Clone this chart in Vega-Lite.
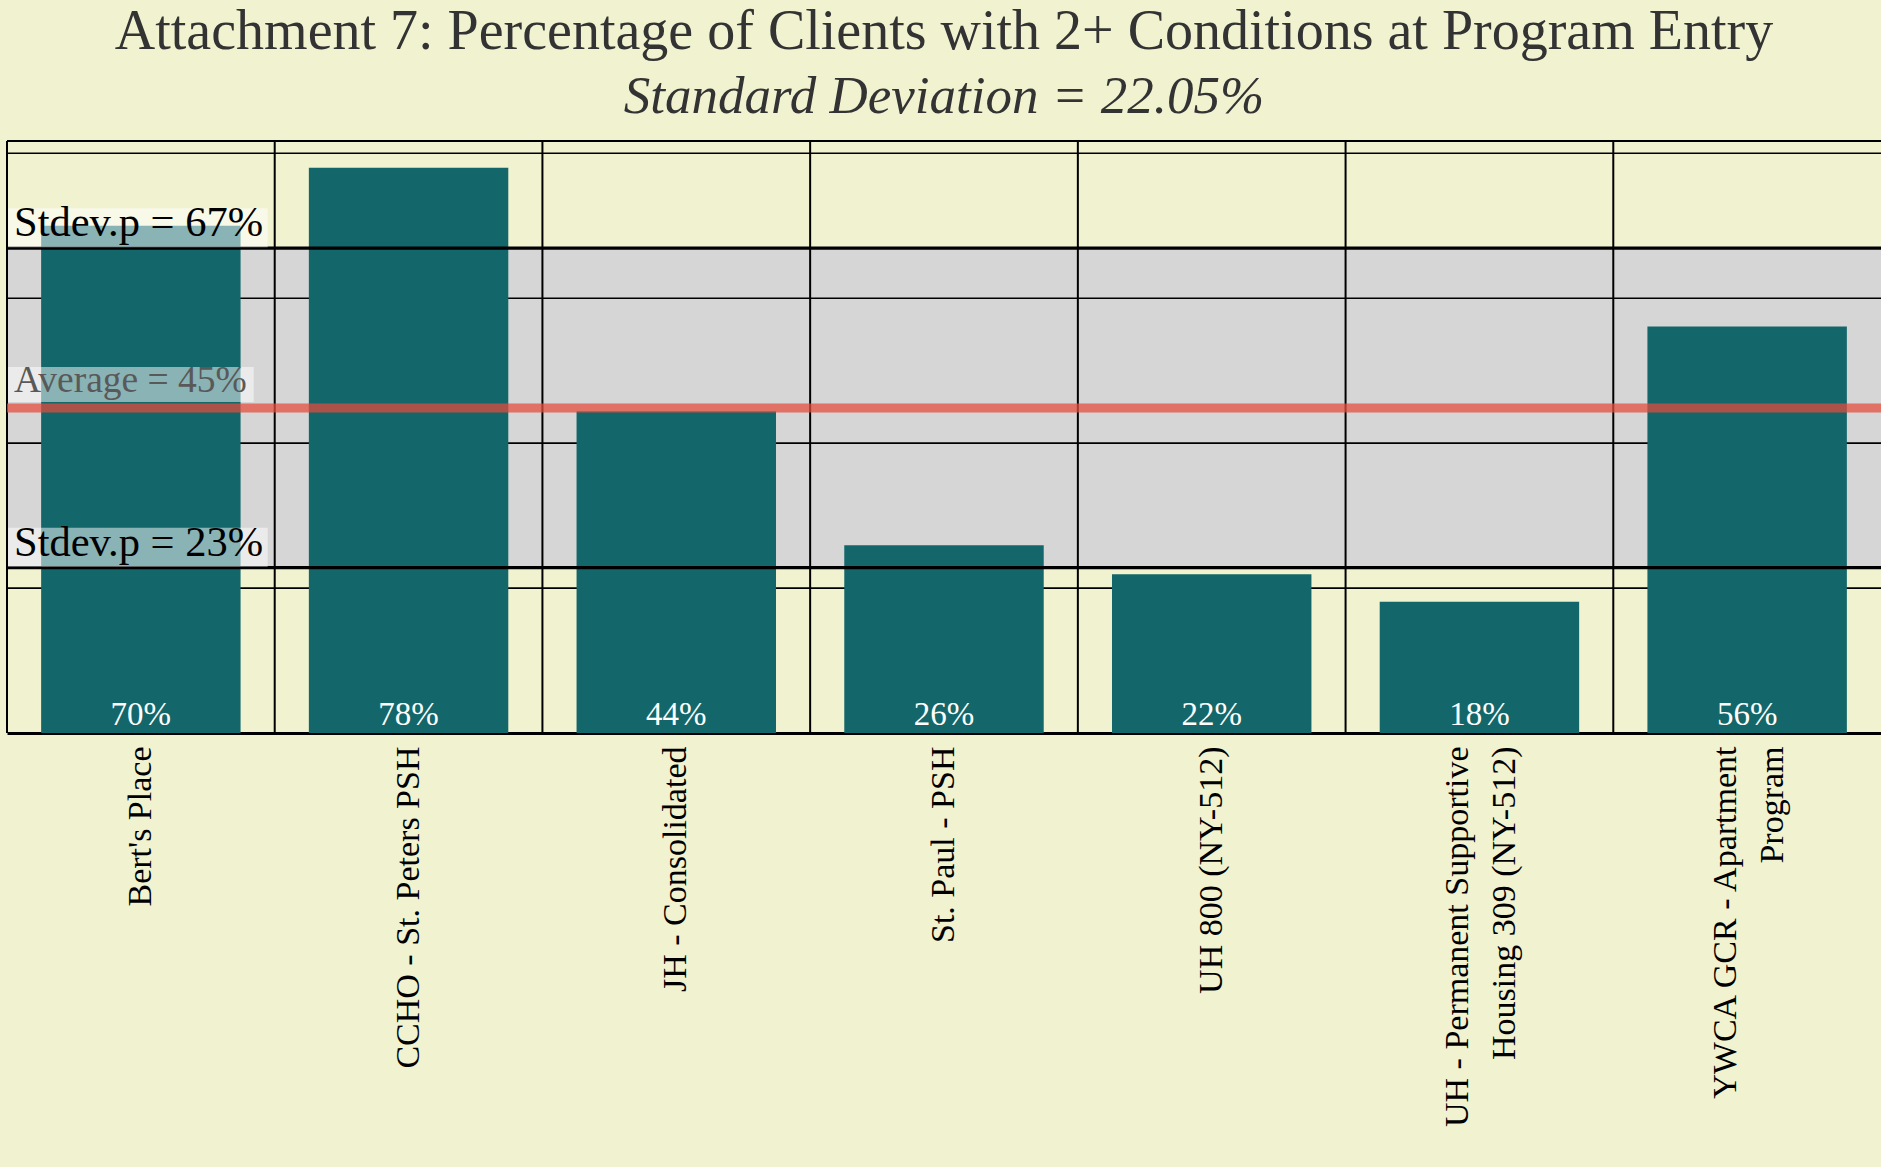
{
  "$schema": "https://vega.github.io/schema/vega-lite/v6.json",
  "width": 1874,
  "height": 592,
  "autosize": {"type": "none"},
  "padding": {"left": 7, "top": 141, "right": 0, "bottom": 434},
  "background": "#F1F2D0",
  "view": {"stroke": null},
  "config": {"font": "Liberation Serif"},
  "title": {
    "text": "Attachment 7: Percentage of Clients with 2+ Conditions at Program Entry",
    "subtitle": "Standard Deviation = 22.05%",
    "anchor": "middle",
    "frame": "group",
    "font": "Liberation Serif",
    "fontSize": 56,
    "fontWeight": "normal",
    "color": "#333333",
    "subtitleFont": "Liberation Serif",
    "subtitleFontSize": 53,
    "subtitleFontStyle": "italic",
    "subtitleColor": "#333333",
    "subtitlePadding": 10,
    "offset": 15
  },
  "datasets": {
    "bars": [
      {"program": "Bert's Place", "pct": 0.70},
      {"program": "CCHO - St. Peters PSH", "pct": 0.78},
      {"program": "JH - Consolidated", "pct": 0.444},
      {"program": "St. Paul - PSH", "pct": 0.259},
      {"program": "UH 800 (NY-512)", "pct": 0.219},
      {"program": "UH - Permanent Supportive Housing 309 (NY-512)", "pct": 0.181},
      {"program": "YWCA GCR - Apartment Program", "pct": 0.561}
    ],
    "grid": [{"y": 0.2}, {"y": 0.4}, {"y": 0.6}, {"y": 0.8}],
    "band": [{"lo": 0.2281, "hi": 0.6691}],
    "stdev": [
      {"program": "Bert's Place", "value": 0.6691, "label": "Stdev.p = 67%"},
      {"program": "Bert's Place", "value": 0.2281, "label": "Stdev.p = 23%"}
    ],
    "avg": [
      {"program": "Bert's Place", "value": 0.4486, "label": "Average = 45%"}
    ]
  },
  "layer": [
    {
      "data": {"name": "band"},
      "mark": {"type": "rect", "color": "#D6D6D6"},
      "encoding": {
        "y": {"field": "lo", "type": "quantitative", "axis": null, "scale": {"domain": [0, 0.817], "nice": false}},
        "y2": {"field": "hi"}
      }
    },
    {
      "data": {"name": "grid"},
      "mark": {"type": "rule", "color": "#000000", "strokeWidth": 1.6},
      "encoding": {
        "y": {"field": "y", "type": "quantitative", "axis": null}
      }
    },
    {
      "data": {"name": "grid"},
      "mark": {"type": "rule", "color": "#000000", "strokeWidth": 1.6},
      "encoding": {
        "y": {"datum": 0.817, "type": "quantitative", "axis": null}
      }
    },
    {
      "data": {"name": "bars"},
      "mark": {"type": "rule", "color": "#000000", "strokeWidth": 2},
      "encoding": {
        "x": {"field": "program", "type": "nominal", "sort": null, "bandPosition": 0, "title": null,
          "scale": {"paddingInner": 0, "paddingOuter": 0},
          "axis": {"title": null, "labelAngle": -90, "labelFont": "Liberation Serif", "labelFontSize": 34, "labelColor": "#000000", "labelLimit": 1000, "labelPadding": 13, "labelLineHeight": 47, "ticks": false, "grid": false, "domainColor": "#000000", "domainWidth": 3,
            "labelOffset": {"condition": {"test": "indexof(datum.value, 'Housing 309') >= 0 || indexof(datum.value, 'Apartment') >= 0", "value": -21}, "value": 0},
            "labelExpr": "datum.label == 'UH - Permanent Supportive Housing 309 (NY-512)' ? ['UH - Permanent Supportive', 'Housing 309 (NY-512)'] : datum.label == 'YWCA GCR - Apartment Program' ? ['YWCA GCR - Apartment', 'Program'] : datum.label"}
        }
      }
    },
    {
      "data": {"name": "bars"},
      "mark": {"type": "bar", "color": "#13676A", "width": {"band": 0.745}},
      "encoding": {
        "x": {"field": "program", "type": "nominal", "sort": null, "title": null},
        "y": {"field": "pct", "type": "quantitative", "axis": null}
      }
    },
    {
      "data": {"name": "stdev"},
      "mark": {"type": "rule", "color": "#000000", "strokeWidth": 3.2},
      "encoding": {
        "y": {"field": "value", "type": "quantitative", "axis": null}
      }
    },
    {
      "data": {"name": "avg"},
      "mark": {"type": "rule", "color": "#E44C3D", "opacity": 0.74, "strokeWidth": 9},
      "encoding": {
        "y": {"field": "value", "type": "quantitative", "axis": null}
      }
    },
    {
      "data": {"name": "stdev"},
      "mark": {"type": "rect", "color": "#FFFFFF", "opacity": 0.5, "yOffset": -1, "y2Offset": -40, "width": {"band": 0.97}, "xOffset": -3},
      "encoding": {
        "x": {"field": "program", "type": "nominal", "sort": null, "title": null},
        "y": {"field": "value", "type": "quantitative", "axis": null},
        "y2": {"field": "value"}
      }
    },
    {
      "data": {"name": "avg"},
      "mark": {"type": "rect", "color": "#FFFFFF", "opacity": 0.5, "yOffset": -6, "y2Offset": -41, "width": {"band": 0.918}, "xOffset": -10},
      "encoding": {
        "x": {"field": "program", "type": "nominal", "sort": null, "title": null},
        "y": {"field": "value", "type": "quantitative", "axis": null},
        "y2": {"field": "value"}
      }
    },
    {
      "data": {"name": "stdev"},
      "mark": {"type": "text", "align": "left", "baseline": "alphabetic", "dx": 7, "dy": -12, "fontSize": 42.5, "color": "#000000", "font": "Liberation Serif"},
      "encoding": {
        "x": {"field": "program", "type": "nominal", "sort": null, "bandPosition": 0, "title": null},
        "y": {"field": "value", "type": "quantitative", "axis": null},
        "text": {"field": "label"}
      }
    },
    {
      "data": {"name": "avg"},
      "mark": {"type": "text", "align": "left", "baseline": "alphabetic", "dx": 7, "dy": -16, "fontSize": 37.5, "color": "#595959", "font": "Liberation Serif"},
      "encoding": {
        "x": {"field": "program", "type": "nominal", "sort": null, "bandPosition": 0, "title": null},
        "y": {"field": "value", "type": "quantitative", "axis": null},
        "text": {"field": "label"}
      }
    },
    {
      "data": {"name": "bars"},
      "mark": {"type": "text", "align": "center", "baseline": "alphabetic", "dy": -8, "fontSize": 33, "color": "#FFFFFF", "font": "Liberation Serif"},
      "encoding": {
        "x": {"field": "program", "type": "nominal", "sort": null, "title": null},
        "y": {"datum": 0, "type": "quantitative", "axis": null},
        "text": {"field": "pct", "type": "quantitative", "format": ".0%"}
      }
    }
  ]
}
